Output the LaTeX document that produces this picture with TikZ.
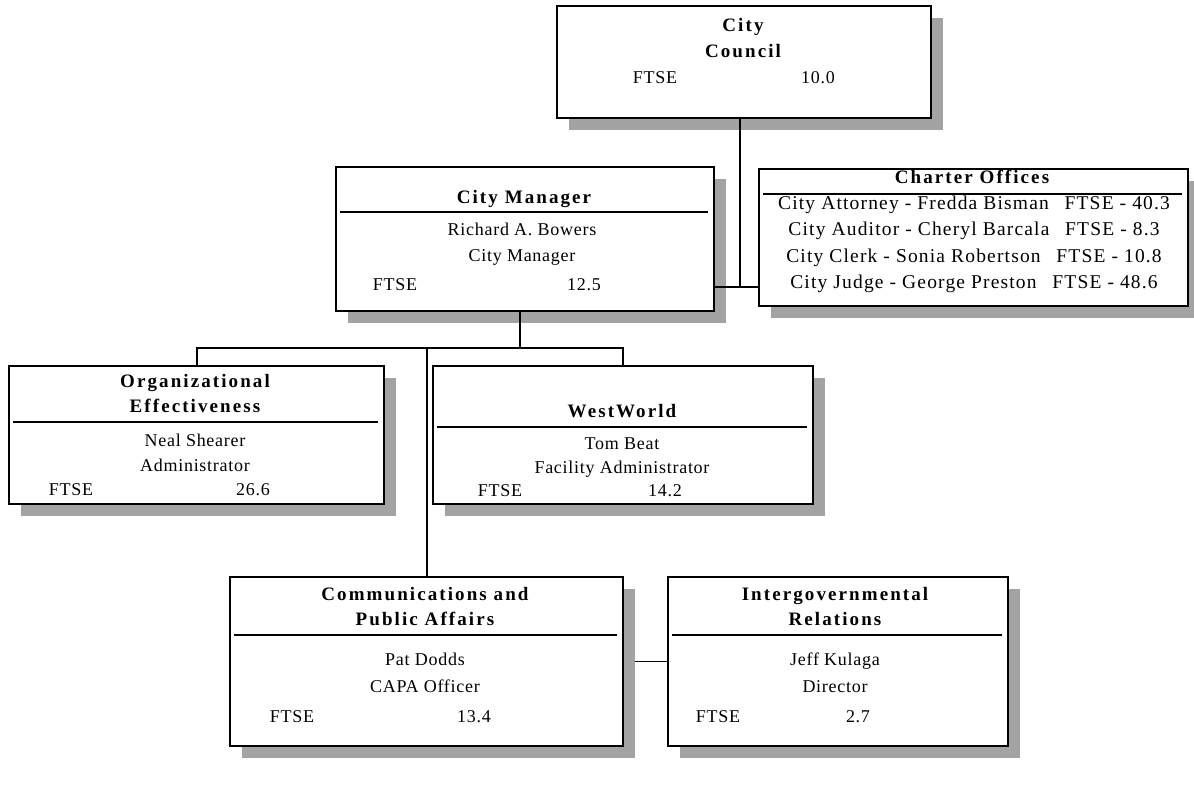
\documentclass[tikz,border=0pt]{standalone}
\usepackage{fontspec}
\setmainfont{Liberation Serif}[LetterSpace=4]
\newfontfamily\headfont{Liberation Serif}[LetterSpace=11]
\newfontfamily\listfont{Liberation Serif}[LetterSpace=6]
\usetikzlibrary{shadows,backgrounds,calc}

\begin{document}
\begin{tikzpicture}[x=1pt, y=-1pt, line width=2pt,
	box/.style = {draw, line width=2.2pt, fill=white, anchor=north west, inner sep=0pt,
		drop shadow={shadow xshift=12pt, shadow yshift=-12pt, fill=black!36, opacity=1}},
	head/.style = {font=\headfont\bfseries\fontsize{19}{21}\selectfont, anchor=mid, inner sep=0pt},
	txt/.style = {font=\fontsize{18}{20}\selectfont, anchor=mid, inner sep=0pt},
	item/.style = {font=\listfont\fontsize{19.5}{21}\selectfont, anchor=mid, inner sep=0pt},
	rule/.style = {line width=1.2pt}]

	\useasboundingbox (0,0) rectangle (1194,790);

	\node[box, minimum width=374pt, minimum height=112pt] (council) at (556,5) {};
	\node[box, minimum width=378pt, minimum height=144pt] (cm) at (335,166) {};
	\node[box, minimum width=429pt, minimum height=137pt] (charter) at (758,168) {};
	\node[box, minimum width=375pt, minimum height=138pt] (oe) at (8,365) {};
	\node[box, minimum width=380pt, minimum height=138pt] (ww) at (432,365) {};
	\node[box, minimum width=393pt, minimum height=169pt] (comm) at (229,576) {};
	\node[box, minimum width=340pt, minimum height=169pt] (rel) at (667,576) {};

	\node[head] (councilA) at (743,29) {City};
	\node[head] (councilB) at (743,55) {Council};
	\node[txt] (councilF) at (655,81) {FTSE};
	\node[txt] (councilV) at (818,81) {10.0};

	\node[head] (cmHead) at (524,201) {City Manager};
	\draw[rule] (340,212) -- (708,212);
	\node[txt] (cmName) at (522,233) {Richard A. Bowers};
	\node[txt] (cmRole) at (522,259) {City Manager};
	\node[txt] (cmF) at (395,288) {FTSE};
	\node[txt] (cmV) at (584,288) {12.5};

	\node[head] (chHead) at (972,181) {Charter Offices};
	\draw[rule] (763,194) -- (1182,194);
	\node[item] (chA) at (974,207) {City Attorney - Fredda Bisman\enspace\ FTSE - 40.3};
	\node[item] (chB) at (974,233) {City Auditor - Cheryl Barcala\enspace\ FTSE - 8.3};
	\node[item] (chC) at (974,260) {City Clerk - Sonia Robertson\enspace\ FTSE - 10.8};
	\node[item] (chD) at (974,286) {City Judge - George Preston\enspace\ FTSE - 48.6};

	\node[head] (oeA) at (195,385) {Organizational};
	\node[head] (oeB) at (195,410) {Effectiveness};
	\draw[rule] (13,422) -- (378,422);
	\node[txt] (oeName) at (195,444) {Neal Shearer};
	\node[txt] (oeRole) at (195,469) {Administrator};
	\node[txt] (oeF) at (71,493) {FTSE};
	\node[txt] (oeV) at (253,493) {26.6};

	\node[head] (wwHead) at (622,415) {WestWorld};
	\draw[rule] (437,427) -- (807,427);
	\node[txt] (wwName) at (622,447) {Tom Beat};
	\node[txt] (wwRole) at (622,471) {Facility Administrator};
	\node[txt] (wwF) at (500,494) {FTSE};
	\node[txt] (wwV) at (665,494) {14.2};

	\node[head] (commA) at (425,598) {Communications and};
	\node[head] (commB) at (425,623) {Public Affairs};
	\draw[rule] (234,635) -- (617,635);
	\node[txt] (commName) at (425,663) {Pat Dodds};
	\node[txt] (commRole) at (425,690) {CAPA Officer};
	\node[txt] (commF) at (292,720) {FTSE};
	\node[txt] (commV) at (474,720) {13.4};

	\node[head] (relA) at (835,598) {Intergovernmental};
	\node[head] (relB) at (835,623) {Relations};
	\draw[rule] (672,635) -- (1002,635);
	\node[txt] (relName) at (835,663) {Jeff Kulaga};
	\node[txt] (relRole) at (835,690) {Director};
	\node[txt] (relF) at (718,720) {FTSE};
	\node[txt] (relV) at (858,720) {2.7};

	\coordinate (link) at (740,287);
	\coordinate (bus) at (520,348);

	\draw (council.south -| link) -- (link);
	\draw (cm.east |- link) -- (charter.west |- link);
	\draw (cm.south -| bus) -- (bus);
	\draw (oe.north) |- (bus) -| (ww.north);
	\draw (comm.north |- bus) -- (comm.north);
	\begin{pgfonlayer}{background}
		\draw (comm.east) -- (rel.west);
	\end{pgfonlayer}
\end{tikzpicture}
\end{document}
